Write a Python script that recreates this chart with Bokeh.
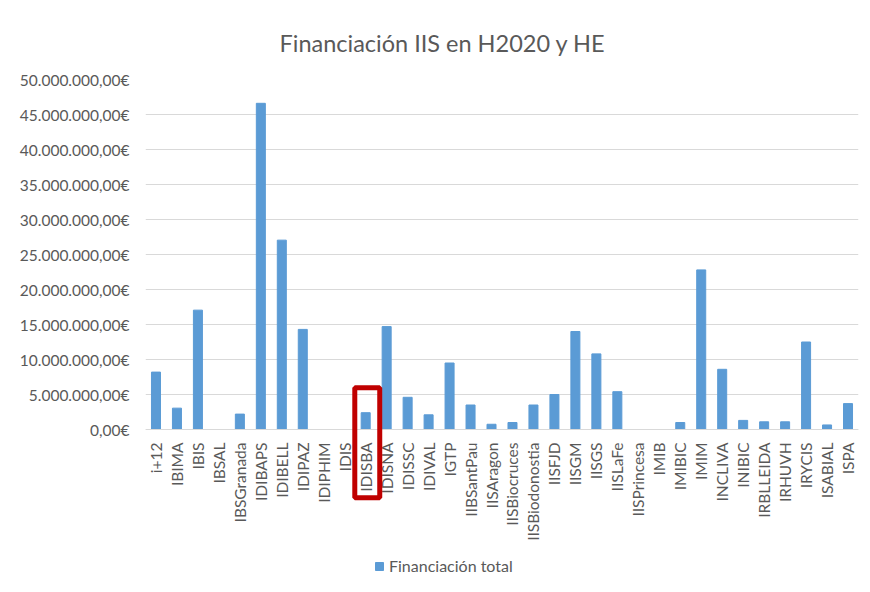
import math
from bokeh.plotting import figure
from bokeh.models import (ColumnDataSource, FactorRange, Range1d, FixedTicker,
                          BoxAnnotation, Legend, LegendItem)
from bokeh.embed import file_html
from bokeh.resources import INLINE

categories = ["i+12", "IBIMA", "IBIS", "IBSAL", "IBSGranada", "IDIBAPS", "IDIBELL",
              "IDIPAZ", "IDIPHIM", "IDIS", "IDISBA", "IDISNA", "IDISSC", "IDIVAL",
              "IGTP", "IIBSantPau", "IISAragon", "IISBiocruces", "IISBiodonostia",
              "IISFJD", "IISGM", "IISGS", "IISLaFe", "IISPrincesa", "IMIB", "IMIBIC",
              "IMIM", "INCLIVA", "INIBIC", "IRBLLEIDA", "IRHUVH", "IRYCIS", "ISABIAL",
              "ISPA"]
financiacion_total = [8_200_000, 3_050_000, 17_050_000, 0, 2_200_000, 46_600_000,
                      27_050_000, 14_300_000, 0, 0, 2_400_000, 14_700_000, 4_600_000,
                      2_100_000, 9_500_000, 3_500_000, 750_000, 1_000_000, 3_500_000,
                      5_000_000, 14_000_000, 10_800_000, 5_400_000, 0, 0, 1_000_000,
                      22_800_000, 8_600_000, 1_300_000, 1_100_000, 1_100_000,
                      12_500_000, 650_000, 3_700_000]
y_ticks = [0, 5_000_000, 10_000_000, 15_000_000, 20_000_000, 25_000_000,
           30_000_000, 35_000_000, 40_000_000, 45_000_000, 50_000_000]
y_tick_labels = ["0,00€", "5.000.000,00€", "10.000.000,00€", "15.000.000,00€",
                 "20.000.000,00€", "25.000.000,00€", "30.000.000,00€",
                 "35.000.000,00€", "40.000.000,00€", "45.000.000,00€",
                 "50.000.000,00€"]
highlighted = "IDISBA"
highlight_top = 5_950_000
highlight_bottom = -9_750_000

FONT = "Lato"
GREY = "#595959"
BLUE = "#5B9BD5"

source = ColumnDataSource(dict(cat=categories, val=financiacion_total))

# frame extends below zero so that the category labels and the highlight box
# (which crosses the axis) live inside the frame
p = figure(x_range=FactorRange(*categories, range_padding=0),
           y_range=Range1d(-21_000_000, 50_000_000),
           frame_width=713, frame_height=497,
           output_backend="svg", toolbar_location=None,
           min_border_left=145, min_border_right=4, min_border_top=79,
           min_border_bottom=4,
           title="Financiación IIS en H2020 y HE")

r = p.vbar(x="cat", top="val", width=0.43, source=source, color=BLUE)

p.title.text_font = FONT
p.title.text_font_size = "23.5px"
p.title.text_font_style = "normal"
p.title.text_color = GREY
p.title.align = "left"
p.title.offset = 134
p.title.standoff = 45

p.outline_line_color = None
p.xgrid.grid_line_color = None
p.ygrid.grid_line_color = "#d9d9d9"
p.ygrid.grid_line_width = 1

p.yaxis.ticker = FixedTicker(ticks=y_ticks)
p.yaxis.major_label_overrides = {t: l for t, l in zip(y_ticks, y_tick_labels)}
p.yaxis.axis_line_color = None
p.yaxis.major_tick_line_color = None
p.yaxis.minor_tick_line_color = None
p.yaxis.major_label_standoff = 10
p.yaxis.major_label_text_font = FONT
p.yaxis.major_label_text_font_size = "15.5px"
p.yaxis.major_label_text_color = GREY

p.xaxis.fixed_location = 0
p.xaxis.axis_line_color = "#d9d9d9"
p.xaxis.major_tick_line_color = None
p.xaxis.major_label_orientation = math.pi / 2
p.xaxis.major_label_standoff = 7
p.xaxis.major_label_text_font = FONT
p.xaxis.major_label_text_font_size = "15.5px"
p.xaxis.major_label_text_color = GREY

idx = categories.index(highlighted)
box = BoxAnnotation(left=idx + 0.5 - 0.52, right=idx + 0.5 + 0.67,
                    top=highlight_top, bottom=highlight_bottom,
                    fill_color=None, fill_alpha=0,
                    line_color="#C00000", line_alpha=1, line_width=5)
p.add_layout(box)

legend = Legend(items=[LegendItem(label="Financiación total", renderers=[r])],
                orientation="horizontal", location=(229, 1),
                border_line_color=None, background_fill_alpha=0,
                label_text_font=FONT, label_text_font_size="16px",
                label_text_color=GREY, glyph_width=10, glyph_height=10,
                label_standoff=5, padding=4, margin=0)
p.add_layout(legend)

open("out.html", "w").write(file_html(p, INLINE))
